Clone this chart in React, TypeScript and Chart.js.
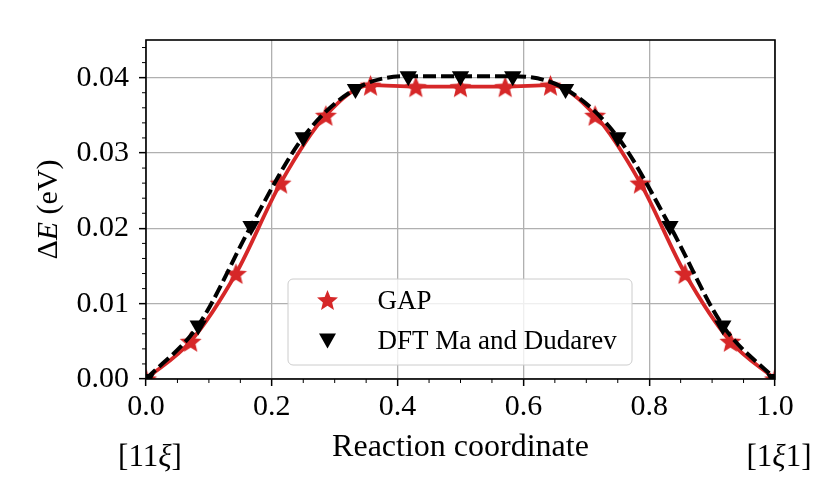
import { useEffect, useRef } from "react";
import { Chart, registerables } from "chart.js";
import type { Plugin } from "chart.js";

Chart.register(...registerables);

// GAP (red stars + solid curve)
const gapX = [0, 0.071, 0.143, 0.214, 0.286, 0.357, 0.429, 0.5, 0.571, 0.643, 0.714, 0.786, 0.857, 0.929, 1.0];
const gapY = [0, 0.005, 0.014, 0.026, 0.035, 0.039, 0.0388, 0.0388, 0.0388, 0.039, 0.035, 0.026, 0.014, 0.005, 0];

// DFT Ma and Dudarev (black triangles + dashed curve)
const dftX = [0, 0.083, 0.167, 0.25, 0.333, 0.417, 0.5, 0.583, 0.667, 0.75, 0.833, 0.917, 1.0];
const dftY = [0, 0.0071, 0.0203, 0.0321, 0.0385, 0.0402, 0.0402, 0.0402, 0.0385, 0.0321, 0.0203, 0.0071, 0];

const xTicks = [0, 0.2, 0.4, 0.6, 0.8, 1.0];
const yTicks = [0, 0.01, 0.02, 0.03, 0.04];

const RED = "#d62728";
const SERIF = '"Liberation Serif", "Times New Roman", serif';

function starPath(ctx: CanvasRenderingContext2D, cx: number, cy: number, r: number) {
  ctx.beginPath();
  for (let i = 0; i < 10; i++) {
    const a = -Math.PI / 2 + (i * Math.PI) / 5;
    const rr = i % 2 === 0 ? r : r * 0.44;
    const px = cx + Math.cos(a) * rr;
    const py = cy + Math.sin(a) * rr;
    if (i === 0) ctx.moveTo(px, py);
    else ctx.lineTo(px, py);
  }
  ctx.closePath();
}

function makeStar(r: number, color: string) {
  const c = document.createElement("canvas");
  const s = Math.ceil(r * 2 + 2);
  c.width = s;
  c.height = s;
  const ctx = c.getContext("2d")!;
  starPath(ctx, s / 2, s / 2 + r * 0.1, r);
  ctx.fillStyle = color;
  ctx.fill();
  return c;
}

function drawRich(
  ctx: CanvasRenderingContext2D,
  parts: [string, boolean][],
  x: number,
  y: number,
  size: number
) {
  const fonts = parts.map(([, it]) => `${it ? "italic " : ""}${size}px ${SERIF}`);
  let total = 0;
  parts.forEach(([t], i) => {
    ctx.font = fonts[i];
    total += ctx.measureText(t).width;
  });
  let cx = x - total / 2;
  parts.forEach(([t], i) => {
    ctx.font = fonts[i];
    ctx.fillText(t, cx, y);
    cx += ctx.measureText(t).width;
  });
}

const decor: Plugin<"line"> = {
  id: "decor",
  afterDraw(chart) {
    const { ctx, chartArea: ca } = chart;
    const xs = chart.scales.x;
    const ys = chart.scales.y;
    ctx.save();

    // minor ticks
    ctx.strokeStyle = "#000";
    ctx.lineWidth = 1;
    ctx.beginPath();
    for (let i = 0; i <= 22; i++) {
      if (i % 5 === 0) continue;
      const py = ys.getPixelForValue(i * 0.002);
      ctx.moveTo(ca.left - 4, py);
      ctx.lineTo(ca.left, py);
    }
    for (let i = 0; i <= 20; i++) {
      if (i % 4 === 0) continue;
      const px = xs.getPixelForValue(i * 0.05);
      ctx.moveTo(px, ca.bottom);
      ctx.lineTo(px, ca.bottom + 4);
    }
    ctx.stroke();

    // frame
    ctx.lineWidth = 1.6;
    ctx.strokeRect(ca.left, ca.top, ca.right - ca.left, ca.bottom - ca.top);

    // legend
    const lx = ca.left + 142;
    const ly = ca.top + 239;
    ctx.beginPath();
    ctx.roundRect(lx, ly, 344, 86, 5);
    ctx.fillStyle = "rgba(255,255,255,0.8)";
    ctx.fill();
    ctx.strokeStyle = "#cccccc";
    ctx.lineWidth = 1;
    ctx.stroke();

    starPath(ctx, lx + 39.5, ly + 22, 11);
    ctx.fillStyle = RED;
    ctx.fill();

    ctx.beginPath();
    const tx = lx + 39.5;
    const ty = ly + 61.5;
    ctx.moveTo(tx - 8.5, ty - 7);
    ctx.lineTo(tx + 8.5, ty - 7);
    ctx.lineTo(tx, ty + 8);
    ctx.closePath();
    ctx.fillStyle = "#000";
    ctx.fill();

    ctx.fillStyle = "#000";
    ctx.textAlign = "left";
    ctx.textBaseline = "alphabetic";
    ctx.font = `27px ${SERIF}`;
    ctx.fillText("GAP", lx + 89.5, ly + 30);
    ctx.fillText("DFT Ma and Dudarev", lx + 89.5, ly + 70);

    // x title and end labels
    drawRich(ctx, [["Reaction coordinate", false]], (ca.left + ca.right) / 2, ca.bottom + 77, 32);
    drawRich(ctx, [["[11", false], ["ξ", true], ["]", false]], xs.getPixelForValue(0) + 4, ca.bottom + 87, 31);
    drawRich(ctx, [["[1", false], ["ξ", true], ["1]", false]], xs.getPixelForValue(1) + 4, ca.bottom + 87, 31);

    // y title
    ctx.translate(49, (ca.top + ca.bottom) / 2);
    ctx.rotate(-Math.PI / 2);
    ctx.textBaseline = "middle";
    drawRich(ctx, [["Δ", false], ["E", true], [" (eV)", false]], 0, 0, 30);

    ctx.restore();
  },
};

export default function App() {
  const canvasRef = useRef<HTMLCanvasElement>(null);

  useEffect(() => {
    if (!canvasRef.current) return;
    const star = makeStar(11.5, RED);
    const gapPts = gapX.map((x, i) => ({ x, y: gapY[i] }));
    const dftPts = dftX.map((x, i) => ({ x, y: dftY[i] }));

    const chart = new Chart(canvasRef.current, {
      type: "line",
      data: {
        datasets: [
          {
            label: "GAP fit",
            data: gapPts,
            borderColor: RED,
            borderWidth: 3.8,
            pointRadius: 0,
            cubicInterpolationMode: "monotone",
            order: 4,
            clip: 0,
          },
          {
            label: "GAP",
            data: gapPts,
            showLine: false,
            pointStyle: star,
            pointRadius: 11,
            order: 3,
            clip: 0,
          },
          {
            label: "DFT fit",
            data: dftPts,
            borderColor: "#000",
            borderWidth: 4,
            borderDash: [13, 5],
            pointRadius: 0,
            cubicInterpolationMode: "monotone",
            order: 2,
            clip: 0,
          },
          {
            label: "DFT Ma and Dudarev",
            data: dftPts,
            showLine: false,
            pointStyle: "triangle",
            rotation: 180,
            pointRadius: 10,
            backgroundColor: "#000",
            borderColor: "#000",
            borderWidth: 0,
            order: 1,
            clip: 0,
          },
        ],
      },
      options: {
        animation: false,
        responsive: true,
        maintainAspectRatio: false,
        layout: { padding: { left: 0, top: 40, right: 55, bottom: 0 } },
        plugins: {
          legend: { display: false },
          tooltip: { enabled: false },
        },
        scales: {
          x: {
            type: "linear",
            min: 0,
            max: 1,
            afterBuildTicks: (s) => {
              s.ticks = xTicks.map((value) => ({ value }));
            },
            afterFit: (s) => {
              s.height = 119;
            },
            border: { display: false },
            grid: {
              color: "#b0b0b0",
              lineWidth: 1.3,
              tickColor: "#000",
              tickLength: 7,
              tickWidth: 1.5,
            },
            ticks: {
              padding: 3,
              color: "#000",
              font: { family: SERIF, size: 30 },
              maxRotation: 0,
              callback: (v) => Number(v).toFixed(1),
            },
          },
          y: {
            type: "linear",
            min: 0,
            max: 0.045,
            afterBuildTicks: (s) => {
              s.ticks = yTicks.map((value) => ({ value }));
            },
            afterFit: (s) => {
              s.width = 146;
            },
            border: { display: false },
            grid: {
              color: "#b0b0b0",
              lineWidth: 1.3,
              tickColor: "#000",
              tickLength: 7,
              tickWidth: 1.5,
            },
            ticks: {
              padding: 10,
              color: "#000",
              font: { family: SERIF, size: 30 },
              callback: (v) => Number(v).toFixed(2),
            },
          },
        },
      },
      plugins: [decor],
    });

    return () => chart.destroy();
  }, []);

  return (
    <div style={{ position: "fixed", left: 0, top: 0, width: 830, height: 498, background: "#fff" }}>
      <canvas ref={canvasRef} />
    </div>
  );
}
